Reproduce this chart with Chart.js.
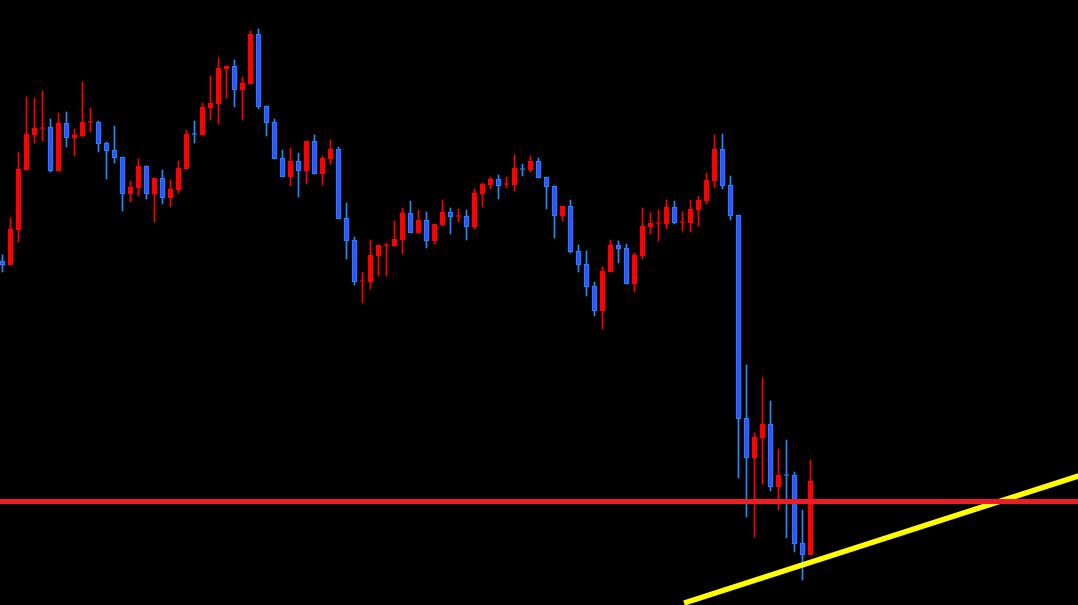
<!DOCTYPE html>
<html>
<head>
<meta charset="utf-8">
<script src="https://cdn.jsdelivr.net/npm/chart.js@4.4.1/dist/chart.umd.min.js"></script>
<style>
  html, body { margin: 0; padding: 0; background: #000; overflow: hidden; }
  #wrap { width: 1078px; height: 605px; }
</style>
</head>
<body>
<div id="wrap"><canvas id="c" width="1078" height="605"></canvas></div>
<script>
// Candle OHLC values (arbitrary price units), one entry per bar
const opens = [344,340,375,435,470,476.5,478,434,482,467,
  469,482.5,483,462,455,448,411,417,439,411,
  427,407,415,436,471.5,470,497,501,536,539,
  515,521,571,499,483,447,428,444,434,464,
  431,446,456,387,365,323.5,323,349,359.5,359,
  365,392,372,385,364,380,393,388.5,389,378,
  411,420,426,420.5,420,436.5,435,444,428,419,
  389,399,354,341,319,294,333,360,357,321,
  349,378,381.5,381,398,382.5,382,395,404,424,
  456,420,390,187,147,167,181,118,130.5,130,
  62,50];
const highs = [350,387,453,508,507,514,486,492,493,476,
  523,497,484,463,479,448,424,446,439,427,
  435,425,444,475,484,502,529,547,539,545,
  528,574,576,499,486,455,457,452,464,470,
  449,465,458,402,368,333,365,360,362,384,
  397,404,395,393,381,405,397,396,395,416,
  422,428,430,428,450,441,449,447,428,419,
  399,405,360,354,323,338,365,364,361,352,
  397,392,395,405,404,393,405,409,432,470,
  471,429,390,240,172,227,204,156,165,133,
  95,145];
const lows = [333,340,363,435,462,464,433,434,458,449,
  468,473,453,426,442,394,403,409,406,383,
  401,398,412,436,462,470,485,481,507,498,
  485,521,496,469,446,428,419,408,421,431,
  420,441,386,346,320,302,316,329,329,359,
  351,372,372,357,361,379,371,383,365,376,
  398,416,406,417,414,429,433,427,396,367,
  384,352,333,309,289,276,333,342,321,313,
  346,371,364,376,381,374,373,379,401,417,
  416,385,127,88,68,121,114,95,67,53,
  25,50];
const closes = [340,376,436,471,477,477.5,434,482,467,470,
  483,483.5,461,454,447,411,418,439,411,427,
  407,416,437,471,470.5,498,502,537,539,515,
  522,571,498,482,446,428,444,434,464,431,
  447,456,386,364,323,324.5,350,360,360.5,366,
  392,372,385,364,381,393,388,389.5,378,412,
  421,426,419,421.5,437,435.5,444,427,418,389,
  399,353,340,318,294,334,360,356,321,350,
  379,382,382.5,398,382,383.5,396,405,425,456,
  419,389,186,147,168,181,118,130,129.5,61,
  50,124];

// Horizontal level and trend line (x in bar index units)
const levelValue = 103.5;
const levelX = [-5, 140];
const trendX = [85.2, 140];
const trendY = [2, 143.3];

const UP = '#ff0000';
const DOWN_FILL = '#3352ff';
const DOWN_EDGE = '#1e90ff';

const isUp = opens.map((o, i) => closes[i] >= o);
const wickData = highs.map((h, i) => ({ x: i, y: [lows[i], h] }));
const bodyData = opens.map((o, i) => {
  let a = o, b = closes[i];
  if (Math.abs(a - b) < 1) { const m = (a + b) / 2; a = m - 0.5; b = m + 0.5; }
  return { x: i, y: [a, b] };
});

new Chart(document.getElementById('c'), {
  type: 'bar',
  data: {
    datasets: [
      {
        type: 'line',
        data: levelX.map(x => ({ x, y: levelValue })),
        borderColor: '#ee1c25',
        borderWidth: 5,
        pointRadius: 0,
        order: 0
      },
      {
        type: 'line',
        data: trendX.map((x, i) => ({ x, y: trendY[i] })),
        borderColor: '#ffff00',
        borderWidth: 5.5,
        pointRadius: 0,
        order: 0
      },
      {
        type: 'bar',
        data: bodyData,
        backgroundColor: isUp.map(u => u ? UP : DOWN_FILL),
        borderColor: isUp.map(u => u ? UP : DOWN_EDGE),
        borderWidth: 1,
        borderSkipped: false,
        barThickness: 5,
        grouped: false,
        order: 1
      },
      {
        type: 'bar',
        data: wickData,
        backgroundColor: isUp.map(u => u ? UP : DOWN_EDGE),
        borderWidth: 0,
        barThickness: 1,
        grouped: false,
        order: 2
      }
    ]
  },
  options: {
    responsive: false,
    animation: false,
    devicePixelRatio: 1,
    layout: { padding: 0 },
    plugins: { legend: { display: false }, tooltip: { enabled: false } },
    scales: {
      x: { type: 'linear', min: -0.3125, max: 134.4375, offset: false, display: false },
      y: { type: 'linear', min: 0, max: 605, display: false }
    }
  }
});
</script>
</body>
</html>
